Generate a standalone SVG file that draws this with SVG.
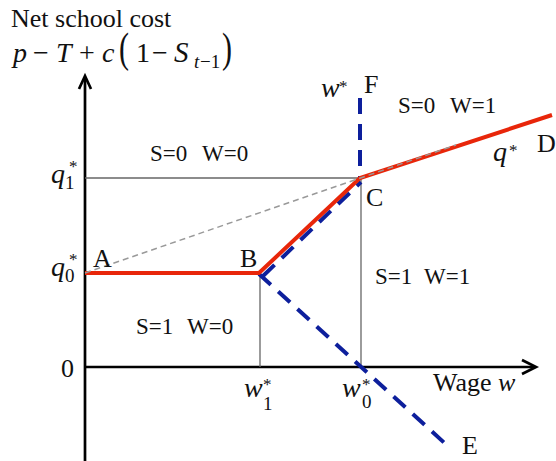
<svg xmlns="http://www.w3.org/2000/svg" width="556" height="461" viewBox="0 0 556 461">
<style>
text{font-family:"Liberation Serif","Times New Roman",serif;fill:#111}
.lbl{font-size:26px}
.reg{font-size:23px}
.it{font-style:italic}
.ax{stroke:#000;stroke-width:2.7;fill:none}
.guide{stroke:#666;stroke-width:1.3;fill:none}
.gdash{stroke:#999;stroke-width:1.5;stroke-dasharray:6 4;fill:none}
.red{stroke:#e8260a;stroke-width:4;fill:none;stroke-linejoin:miter}
.blue{stroke:#0d1f9c;stroke-width:4;stroke-dasharray:16 10;fill:none}
.sub{font-size:19px}
.star{font-size:17px}
</style>
<rect width="556" height="461" fill="#fff"/>
<g id="axes">
<line class="ax" x1="85" y1="461" x2="85" y2="77"/>
<polyline class="ax" points="79,89 85,76 91,89" stroke-width="1.6"/>
<line class="ax" x1="85" y1="367" x2="535" y2="367"/>
<polyline class="ax" points="522,360 536,367 522,374" stroke-width="1.6"/>
</g>
<g id="connectors">
<line class="guide" x1="85" y1="178" x2="360" y2="178"/>
<line class="guide" x1="260" y1="273" x2="260" y2="367"/>
<line class="guide" x1="361" y1="178" x2="361" y2="367"/>
<line class="blue" x1="360" y1="98" x2="360" y2="178"/>
<line class="blue" x1="263" y1="276" x2="361" y2="182"/>
<line class="blue" x1="259" y1="274" x2="450" y2="448"/>
<polyline class="red" points="85,273 259,273 360,178 552,115"/>
<line class="gdash" x1="85" y1="273" x2="456" y2="145"/>
</g>
<g id="title">
<text class="lbl" x="11" y="27" font-size="26.5">Net school cost</text>
<text font-size="28"><tspan class="it" x="13" y="62">p</tspan><tspan x="33" y="62">−</tspan><tspan class="it" x="56" y="62">T</tspan><tspan x="79" y="62">+</tspan><tspan class="it" x="102" y="62">c</tspan><tspan x="136" y="62">1</tspan><tspan x="152" y="62">−</tspan><tspan class="it" x="174" y="62" font-size="29">S</tspan></text>
<text font-size="30" transform="translate(119,62) scale(1,1.4)">(</text>
<text font-size="30" transform="translate(222,62) scale(1,1.4)">)</text>
<text font-size="19"><tspan class="it" x="194" y="68">t</tspan><tspan x="200" y="68">−1</tspan></text>
</g>
<g id="ylabels">
<text font-size="28" class="it" x="51" y="183">q</text>
<text class="sub" x="65" y="189">1</text>
<text class="star" x="69" y="172">*</text>
<text font-size="28" class="it" x="51" y="276">q</text>
<text class="sub" x="65" y="282">0</text>
<text class="star" x="69" y="265">*</text>
<text class="lbl" x="61" y="377">0</text>
</g>
<g id="xlabels">
<text font-size="28" class="it" x="244" y="397">w</text>
<text class="sub" x="263" y="410">1</text>
<text class="star" x="263" y="390">*</text>
<text font-size="28" class="it" x="342" y="397">w</text>
<text class="sub" x="362" y="408">0</text>
<text class="star" x="362" y="390">*</text>
<text class="lbl" x="433" y="391">Wage <tspan class="it">w</tspan></text>
</g>
<g id="pointA"><text class="lbl" x="93" y="267">A</text></g>
<g id="pointB"><text class="lbl" x="240" y="267">B</text></g>
<g id="pointC"><text class="lbl" x="366" y="206">C</text></g>
<g id="pointD"><text class="lbl" x="537" y="152">D</text></g>
<g id="pointE"><text class="lbl" x="462" y="454">E</text></g>
<g id="pointF"><text class="lbl" x="364" y="93">F</text></g>
<g id="wstar"><text font-size="28" class="it" x="321" y="97">w</text><text class="star" x="339" y="92">*</text></g>
<g id="qstar"><text font-size="28" class="it" x="493" y="161">q</text><text class="star" x="509" y="156">*</text></g>
<g id="regions">
<text class="reg" x="150" y="161">S=0<tspan x="202">W=0</tspan></text>
<text class="reg" x="398" y="113">S=0<tspan x="450">W=1</tspan></text>
<text class="reg" x="375" y="284">S=1<tspan x="424">W=1</tspan></text>
<text class="reg" x="136" y="334">S=1<tspan x="187">W=0</tspan></text>
</g>
</svg>
